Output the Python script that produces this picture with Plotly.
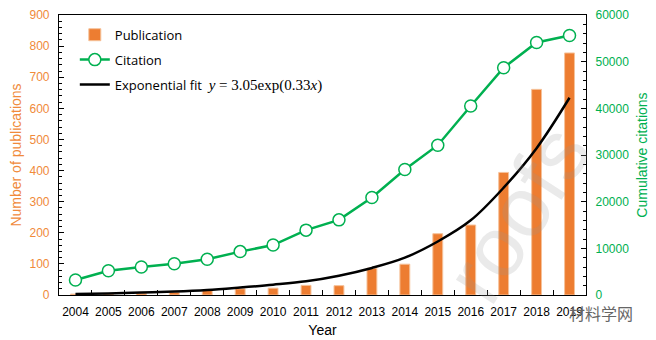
import plotly.graph_objects as go

years = [str(y) for y in range(2004, 2020)]
publications = [3, 3, 6, 9, 15, 20, 22, 31, 30, 86, 99, 197, 225, 394, 661, 778]
citations = [3200, 5200, 6000, 6700, 7650, 9300, 10700, 13900, 16100, 20900, 26900, 32100, 40500, 48700, 54100, 55600]
fit_values = [3, 5, 8, 11, 16, 24, 33, 44, 62, 87, 120, 172, 240, 345, 472, 634]

ORANGE = "#ED7D31"
ORANGE_TXT = "#F08A3A"
GREEN = "#00B050"
FONT = "Liberation Sans, Arial, sans-serif"

fig = go.Figure()
fig.add_trace(go.Bar(
    x=years, y=publications, name="Publication", width=0.3,
    marker=dict(color=ORANGE, line=dict(color="#F6C29A", width=1)),
    yaxis="y", legendgroup="a",
))
fig.add_trace(go.Scatter(
    x=years, y=citations, name="Citation", mode="lines+markers",
    line=dict(color=GREEN, width=2.5),
    marker=dict(symbol="circle", size=12, color="white", line=dict(color=GREEN, width=1.5)),
    yaxis="y2", legendgroup="b",
))
fig.add_trace(go.Scatter(
    x=years, y=fit_values, mode="lines", line_shape="spline",
    name="Exponential fit  <span style=\"font-family:'Liberation Serif',serif;font-size:15px\"><i>y</i> = 3.05exp(0.33<i>x</i>)</span>",
    line=dict(color="black", width=2.5), yaxis="y", legendgroup="c",
))

fig.update_layout(
    width=656, height=340,
    margin=dict(l=59, r=70, t=15, b=45),
    paper_bgcolor="white", plot_bgcolor="white",
    font=dict(family=FONT, size=12, color="black"),
    showlegend=True,
    legend=dict(x=0.03, y=0.983, xanchor="left", yanchor="top",
                bgcolor="rgba(0,0,0,0)", font=dict(family="Open Sans, sans-serif", size=13),
                tracegroupgap=5, traceorder="grouped"),
    xaxis=dict(
        type="category", range=[-0.5, 15.5], tickson="boundaries",
        ticks="inside", ticklen=5, tickcolor="black", tickangle=0,
        ticklabelstandoff=5,
        showline=True, linecolor="black", linewidth=1.2, mirror=True,
        showgrid=False, tickfont=dict(size=12, color="black"), automargin=False,
        title=dict(text="Year", font=dict(size=14), standoff=7),
    ),
    yaxis=dict(
        range=[0, 900], dtick=100, ticks="inside", ticklen=5, tickcolor="black",
        ticklabelstandoff=6,
        minor=dict(dtick=20, ticks="inside", ticklen=3, tickcolor="black"),
        showline=True, linecolor="black", linewidth=1.2,
        showgrid=False, zeroline=False, automargin=False,
        tickfont=dict(size=12, color=ORANGE_TXT),
        title=dict(text="Number of publications", font=dict(size=14, color=ORANGE_TXT), standoff=4),
    ),
    yaxis2=dict(
        range=[0, 60000], dtick=10000, overlaying="y", side="right",
        ticks="inside", ticklen=5, tickcolor="black", tickformat="d",
        ticklabelstandoff=6,
        minor=dict(dtick=2000, ticks="inside", ticklen=3, tickcolor="black"),
        showline=True, linecolor="black", linewidth=1.2,
        showgrid=False, zeroline=False, automargin=False,
        tickfont=dict(size=12, color=GREEN),
        title=dict(text="Cumulative citations", font=dict(size=14, color=GREEN), standoff=9),
    ),
    bargap=0.7,
)

fig.add_annotation(
    text="roofs", xref="paper", yref="paper", x=0.87, y=0.29,
    xanchor="center", yanchor="middle",
    showarrow=False, textangle=-57,
    font=dict(size=85, family=FONT, color="rgba(150,150,150,0.2)"),
)
fig.add_annotation(
    text="材料学网", xref="paper", yref="paper", x=1.093, y=-0.063,
    xanchor="right", yanchor="middle", showarrow=False,
    font=dict(size=16, family="Noto Sans CJK SC", color="#666666"),
)

fig.write_html("out.html")
